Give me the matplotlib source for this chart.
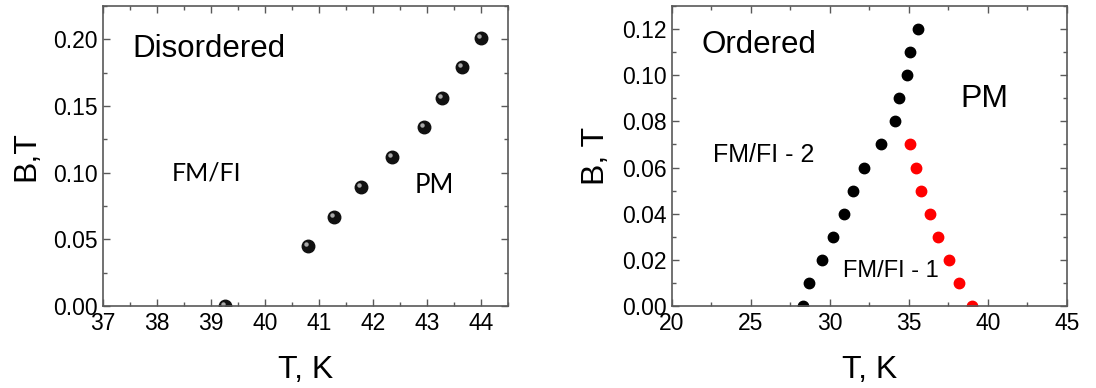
import matplotlib
matplotlib.use("Agg")
import matplotlib.pyplot as plt
from matplotlib.ticker import MultipleLocator, FormatStrFormatter
from matplotlib.transforms import offset_copy

plt.rcParams['font.family'] = ['Liberation Sans', 'DejaVu Sans']

# Disordered sample: phase boundary points
dis_T = [39.25, 40.80, 41.28, 41.78, 42.36, 42.94, 43.28, 43.64, 44.00]
dis_B = [0.000, 0.045, 0.067, 0.089, 0.112, 0.134, 0.156, 0.179, 0.201]

# Ordered sample: FM/FI-2 boundary (black) and FM/FI-1 boundary (red)
ord_T_black = [28.32, 28.68, 29.52, 30.19, 30.89, 31.48, 32.19, 33.21, 34.11, 34.36, 34.89, 35.10, 35.59]
ord_B_black = [0.00, 0.01, 0.02, 0.03, 0.04, 0.05, 0.06, 0.07, 0.08, 0.09, 0.10, 0.11, 0.12]
ord_T_red = [35.06, 35.48, 35.75, 36.34, 36.85, 37.52, 38.18, 38.98]
ord_B_red = [0.07, 0.06, 0.05, 0.04, 0.03, 0.02, 0.01, 0.00]

SPINE = "#595959"


def style_axes(ax, xmaj, xmin, ymaj, ymin, yfmt):
    for s in ax.spines.values():
        s.set_color(SPINE)
        s.set_linewidth(1.2)
    ax.xaxis.set_major_locator(MultipleLocator(xmaj))
    ax.xaxis.set_minor_locator(MultipleLocator(xmin))
    ax.yaxis.set_major_locator(MultipleLocator(ymaj))
    ax.yaxis.set_minor_locator(MultipleLocator(ymin))
    ax.yaxis.set_major_formatter(FormatStrFormatter(yfmt))
    ax.tick_params(which="both", direction="in", top=True, right=True,
                   color=SPINE, labelsize=16.5, width=1.0)
    ax.tick_params(which="major", length=5, pad=4)
    ax.tick_params(which="minor", length=3)


fig = plt.figure(figsize=(10.96, 3.88), dpi=100)
ax1 = fig.add_axes([0.094, 0.2113, 0.3695, 0.7732])
ax2 = fig.add_axes([0.613, 0.2113, 0.3603, 0.7732])

# left panel - shaded "ball" markers
ax1.plot(dis_T, dis_B, "o", ms=9, color="#111111", ls="none")
hl = offset_copy(ax1.transData, fig=fig, x=-1.4, y=1.4, units="points")
ax1.plot(dis_T, dis_B, "o", ms=3.2, color="#cfcfcf", alpha=0.8, ls="none",
         transform=hl, mec="none")
ax1.set_xlim(37, 44.5)
ax1.set_ylim(0, 0.225)
style_axes(ax1, 1, 0.5, 0.05, 0.025, "%.2f")
ax1.set_xlabel("T, K", fontsize=23, labelpad=15)
ax1.set_ylabel("B,T", fontsize=23, labelpad=8)
ax1.text(0.072, 0.83, "Disordered", transform=ax1.transAxes, fontsize=22.5)
ax1.text(0.17, 0.42, "FM/FI", transform=ax1.transAxes, fontsize=18,
         family=["Lato", "DejaVu Sans"])
ax1.text(0.77, 0.377, "PM", transform=ax1.transAxes, fontsize=18.5,
         family=["Lato", "DejaVu Sans"])

# right panel
ax2.plot(ord_T_black, ord_B_black, "o", ms=7.5, color="black", ls="none")
ax2.plot(ord_T_red, ord_B_red, "o", ms=7.5, color="#ff0000", ls="none")
ax2.set_xlim(20, 45)
ax2.set_ylim(0, 0.13)
style_axes(ax2, 5, 2.5, 0.02, 0.01, "%.2f")
ax2.set_xlabel("T, K", fontsize=23, labelpad=15)
ax2.set_ylabel("B, T", fontsize=23, labelpad=8)
ax2.text(0.075, 0.843, "Ordered", transform=ax2.transAxes, fontsize=22.5)
ax2.text(0.73, 0.664, "PM", transform=ax2.transAxes, fontsize=23)
ax2.text(0.104, 0.481, "FM/FI - 2", transform=ax2.transAxes, fontsize=18)
ax2.text(0.433, 0.097, "FM/FI - 1", transform=ax2.transAxes, fontsize=17)

fig.savefig("out.png", dpi=100)
